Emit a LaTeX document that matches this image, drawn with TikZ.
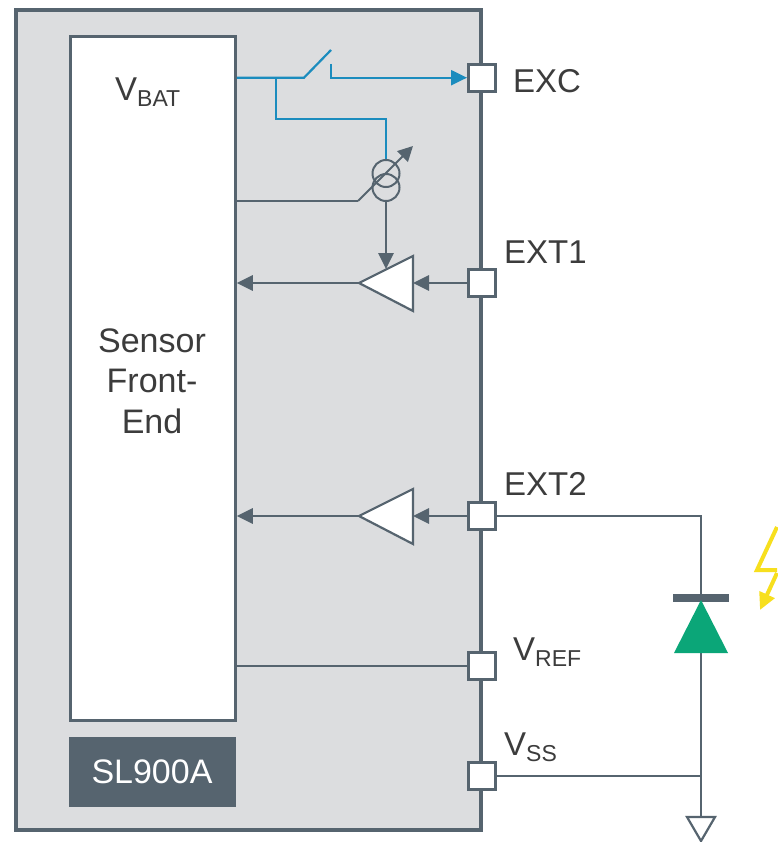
\documentclass[tikz,border=0pt]{standalone}
\usepackage{fontspec}
\setmainfont{Liberation Sans}
\usetikzlibrary{arrows.meta}
\definecolor{slate}{HTML}{56646F}
\definecolor{wireblue}{HTML}{1B8CBE}
\definecolor{chipgray}{HTML}{DCDDDF}
\definecolor{diodegreen}{HTML}{0BA678}
\definecolor{boltyellow}{HTML}{F7DF1E}
\definecolor{labeltext}{HTML}{3C3C3C}
\tikzset{
  x=1pt,y=-1pt,
  chip/.style={draw=slate,fill=chipgray,line width=3.6pt,minimum width=465pt,minimum height=820pt,inner sep=0pt},
  fe/.style={draw=slate,fill=white,line width=2.5pt,minimum width=165pt,minimum height=684pt,inner sep=0pt},
  badge/.style={fill=slate,text=white,minimum width=167pt,minimum height=70pt,inner sep=0pt,font=\fontsize{34}{38}\selectfont},
  pad/.style={draw=slate,fill=white,line width=3pt,minimum width=27pt,minimum height=27pt,inner sep=0pt},
  lbl/.style={text=labeltext,inner sep=0pt,font=\fontsize{33}{38}\selectfont},
  wire/.style={draw=slate,line width=2pt},
  bwire/.style={draw=wireblue,line width=2.2pt},
  tipS/.style={-{Triangle[length=16pt,width=15pt]}},
  amp/.style={draw=slate,fill=white,line width=2.2pt,line join=miter},
  heavy/.style={draw=slate,line width=2.8pt},
  coil/.style={circle,draw=slate,line width=2pt,minimum size=27pt,inner sep=0pt},
}
\newcommand{\subl}[1]{\raisebox{-6pt}{\fontsize{23}{25}\selectfont #1}}
\begin{document}
\begin{tikzpicture}
\useasboundingbox (0,0) rectangle (777,842);
\fill[white] (0,0) rectangle (777,842);
\node[chip] (chip) at (248.5,420) {};
\node[fe] (fe) at (153,378.5) {};
\node[badge] (badge) at (152,772) {SL900A};
\node[lbl,align=center,font=\fontsize{34}{40.5}\selectfont] (sfe) at (152,381) {Sensor\\Front-\\End};
\node[lbl,anchor=west] (vbat) at (115,92) {V\subl{BAT}};

% pads
\node[pad] (exc) at (482,77.7) {};
\node[pad] (ext1) at (482,283) {};
\node[pad] (ext2) at (482,516) {};
\node[pad] (vref) at (482,666) {};
\node[pad] (vss) at (482,776) {};
\node[lbl,anchor=west] (lexc) at (513,81) {EXC};
\node[lbl,anchor=west] (lext1) at (504,252) {EXT1};
\node[lbl,anchor=west] (lext2) at (504,484) {EXT2};
\node[lbl,anchor=west] (lvref) at (513,652) {V\subl{REF}};
\node[lbl,anchor=west] (lvss) at (504,747) {V\subl{SS}};

% blue wires
\coordinate (swa) at (304,77.7);
\coordinate (swb) at (331,77.7);
\coordinate (tap) at (276,77.7);
\draw[bwire] (fe.east |- swa) -- (swa) -- (331,50);
\draw[bwire,-{Triangle[length=16pt,width=15pt]}] (331,64) -- (swb) -- (exc.west);
\draw[bwire] (tap) -- (276,119) -- (386,119) -- (386,160);

% current source
\node[coil] (c1) at (386,173.5) {};
\node[coil] (c2) at (386,187.5) {};
\coordinate (k) at (358,201);
\draw[wire] (fe.east |- k) -- (k);
\draw[wire,-{Triangle[length=15pt,width=15pt]}] (k) -- (413,146);

% amplifiers
\coordinate (a1t) at (413,256);
\coordinate (a1b) at (413,311);
\coordinate (a1p) at (359,283);
\coordinate (a2t) at (413,489);
\coordinate (a2b) at (413,544);
\coordinate (a2p) at (359,516);
\draw[amp] (a1t) -- (a1b) -- (a1p) -- cycle;
\draw[amp] (a2t) -- (a2b) -- (a2p) -- cycle;
\draw[heavy,tipS] (c2.south) -- (386,269);
\draw[heavy,tipS] (ext1.west) -- (a1b |- ext1);
\draw[heavy,tipS] (a1p) -- (fe.east |- a1p);
\draw[heavy,tipS] (ext2.west) -- (a2b |- ext2);
\draw[heavy,tipS] (a2p) -- (fe.east |- a2p);

% vref
\draw[wire] (vref.west) -- (fe.east |- vref);

% diode
\coordinate (cath) at (701,600);
\coordinate (anode) at (701,653);
\coordinate (gnd) at (701,817);
\coordinate (j) at (701,776);
\draw[wire] (ext2.east) -- (701,516) -- (cath);
\draw[wire] (anode) -- (gnd);
\draw[wire] (vss.east) -- (j);
\fill[slate] (673,594) rectangle (729,602);
\fill[diodegreen] (cath) -- (728,653) -- (674,653) -- cycle;
\draw[wire,line width=2.2pt,line join=miter] (687,817) -- (715,817) -- (701,841) -- cycle;

% bolt
\draw[boltyellow,line width=4pt,line join=miter] (777,527) -- (757,570) -- (777,570);
\draw[boltyellow,line width=4pt,-{Triangle[length=17pt,width=16pt]}] (777,573) -- (760,610);
\end{tikzpicture}
\end{document}
